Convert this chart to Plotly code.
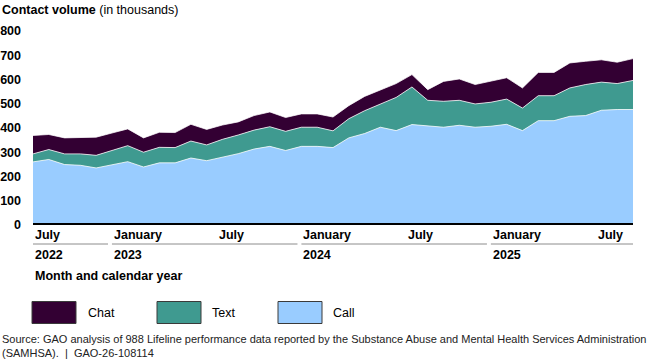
import plotly.graph_objects as go
import pandas as pd

# ---- data (thousands of contacts), monthly Jul 2022 - Sep 2025 ----
months = [p.strftime("%b %Y") for p in pd.period_range("2022-07", "2025-09", freq="M")]

call = [252, 262, 241, 238, 227, 241, 253, 231, 248, 248, 268, 257, 272, 286, 305, 316, 299, 316, 316, 311,
        351, 369, 395, 381, 406, 399, 395, 403, 395, 399, 407, 381, 422, 422, 440, 443, 465, 468, 468]
text = [33, 41, 44, 47, 52, 59, 66, 61, 64, 63, 70, 65, 73, 77, 78, 81, 79, 79, 79, 69,
        79, 94, 97, 137, 155, 107, 107, 103, 96, 99, 104, 93, 103, 103, 117, 128, 116, 107, 120]
chat = [76, 62, 66, 69, 75, 71, 69, 59, 62, 62, 69, 64, 59, 54, 60, 61, 57, 55, 55, 57,
        54, 59, 58, 57, 51, 44, 82, 88, 80, 86, 88, 83, 96, 96, 103, 96, 92, 88, 90]

series_names = ["Call", "Text", "Chat"]
series_values = [call, text, chat]
series_colors = ["#99ccff", "#3f9a90", "#330033"]

y_ticks = [0, 100, 200, 300, 400, 500, 600, 700, 800]
month_tick_labels = [("Jul 2022", "July"), ("Jan 2023", "January"), ("Jul 2023", "July"),
                     ("Jan 2024", "January"), ("Jul 2024", "July"), ("Jan 2025", "January"),
                     ("Jul 2025", "July")]
years = ["2022", "2023", "2024", "2025"]

# ---- layout geometry ----
W, H = 650, 361
L, R, T, B = 33, 17, 29, 138
PW, PH = W - L - R, H - T - B
FONT = "Liberation Sans, Arial, sans-serif"


def px_x(px):
    return (px - L) / PW


def px_y(py):
    return (H - B - py) / PH


fig = go.Figure()
for name, vals, col in zip(series_names, series_values, series_colors):
    fig.add_trace(go.Scatter(
        x=months, y=vals, name=name, mode="lines", stackgroup="one",
        line=dict(color="rgba(255,255,255,0.75)", width=1),
        fillcolor=col, showlegend=False))

idx = {m: i for i, m in enumerate(months)}
annotations = []
shapes = []

# month labels
for m, lab in month_tick_labels:
    i = idx[m]
    pos = max(0, i - 1) if lab == "January" else max(0, i - 0.35)
    annotations.append(dict(x=pos, xref="x", y=px_y(235), yref="paper", text=f"<b>{lab}</b>",
                            showarrow=False, xanchor="left", yanchor="middle",
                            font=dict(size=12.5, family=FONT, color="#000")))

# year labels and underline segments
starts = []
for yv in years:
    key = "Jul 2022" if yv == "2022" else f"Jan {yv}"
    starts.append(max(0, idx[key] - 1))
for k, yv in enumerate(years):
    s = starts[k]
    e = starts[k + 1] - 0.25 if k + 1 < len(starts) else len(months) - 1
    shapes.append(dict(type="line", xref="x", yref="paper", x0=s, x1=e,
                       y0=px_y(244), y1=px_y(244), line=dict(color="#8c8c8c", width=1)))
    annotations.append(dict(x=s, xref="x", y=px_y(255), yref="paper", text=f"<b>{yv}</b>",
                            showarrow=False, xanchor="left", yanchor="middle",
                            font=dict(size=12.5, family=FONT, color="#000")))

annotations.append(dict(x=0, xref="x", y=px_y(275.5), yref="paper",
                        text="<b>Month and calendar year</b>", showarrow=False,
                        xanchor="left", yanchor="middle",
                        font=dict(size=12.5, family=FONT, color="#000")))

# title
annotations.append(dict(x=px_x(0), xref="paper", y=px_y(10), yref="paper",
                        text="<b>Contact volume</b> (in thousands)", showarrow=False,
                        xanchor="left", yanchor="middle",
                        font=dict(size=12.5, family=FONT, color="#000")))

# legend (boxes + labels)
legend_boxes = {"Chat": (32, 76, 86), "Text": (157, 201, 210), "Call": (278, 322, 331)}
for name, col in zip(series_names, series_colors):
    x0, x1, tx = legend_boxes[name]
    shapes.append(dict(type="rect", xref="paper", yref="paper",
                       x0=px_x(x0), x1=px_x(x1), y0=px_y(323.5), y1=px_y(301.5),
                       fillcolor=col, line=dict(color="#3a3a3a", width=1)))
    annotations.append(dict(x=px_x(tx), xref="paper", y=px_y(312.5), yref="paper",
                            text=name, showarrow=False, xanchor="left", yanchor="middle",
                            font=dict(size=12.5, family=FONT, color="#000")))

# source note
annotations.append(dict(x=px_x(0), xref="paper", y=px_y(346), yref="paper",
                        text="Source: GAO analysis of 988 Lifeline performance data reported by the Substance Abuse and Mental Health Services Administration<br>(SAMHSA).  |  GAO-26-108114",
                        showarrow=False, xanchor="left", yanchor="middle", align="left",
                        font=dict(size=11, family=FONT, color="#222")))

fig.update_layout(
    width=W, height=H,
    margin=dict(l=L, r=R, t=T, b=B, pad=0, autoexpand=False),
    paper_bgcolor="white", plot_bgcolor="white",
    showlegend=False,
    xaxis=dict(type="category", range=[0, len(months) - 1], showgrid=False, zeroline=False,
               showticklabels=False, ticks="", showline=True, linecolor="#000", linewidth=2),
    yaxis=dict(range=[0, 800], tickvals=y_ticks, showgrid=False, zeroline=False,
               showline=False, ticks="", ticklabelstandoff=11, ticklabelshift=2,
               tickfont=dict(size=12.5, family=FONT, color="#000", weight="bold")),
    annotations=annotations, shapes=shapes,
)

fig.write_html("out.html")
